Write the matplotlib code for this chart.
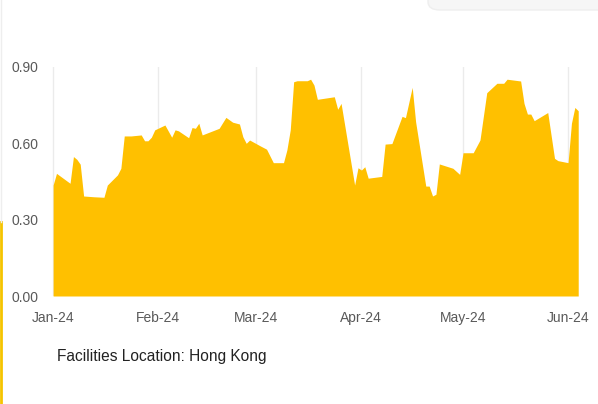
import matplotlib
matplotlib.use("Agg")
import matplotlib.pyplot as plt
import matplotlib.dates as mdates
from matplotlib.patches import FancyBboxPatch
import pandas as pd

# 数据
dates = [
    "2024-01-01", "2024-01-02", "2024-01-06", "2024-01-07", "2024-01-08", "2024-01-09",
    "2024-01-10", "2024-01-13", "2024-01-16", "2024-01-17", "2024-01-20", "2024-01-21",
    "2024-01-22", "2024-01-24", "2024-01-27", "2024-01-28", "2024-01-29", "2024-01-30",
    "2024-01-31", "2024-02-03", "2024-02-05", "2024-02-06", "2024-02-07", "2024-02-10",
    "2024-02-11", "2024-02-12", "2024-02-13", "2024-02-14", "2024-02-19", "2024-02-21",
    "2024-02-23", "2024-02-25", "2024-02-26", "2024-02-27", "2024-02-28", "2024-03-02",
    "2024-03-04", "2024-03-06", "2024-03-09", "2024-03-10", "2024-03-11", "2024-03-12",
    "2024-03-13", "2024-03-16", "2024-03-17", "2024-03-18", "2024-03-19", "2024-03-22",
    "2024-03-24", "2024-03-25", "2024-03-26", "2024-03-30", "2024-03-31", "2024-04-01",
    "2024-04-02", "2024-04-03", "2024-04-07", "2024-04-08", "2024-04-10", "2024-04-13",
    "2024-04-14", "2024-04-16", "2024-04-17", "2024-04-20", "2024-04-21", "2024-04-22",
    "2024-04-23", "2024-04-24", "2024-04-28", "2024-04-30", "2024-05-01", "2024-05-04",
    "2024-05-06", "2024-05-08", "2024-05-11", "2024-05-13", "2024-05-14", "2024-05-18",
    "2024-05-19", "2024-05-20", "2024-05-21", "2024-05-22", "2024-05-26", "2024-05-28",
    "2024-05-29", "2024-06-01", "2024-06-02", "2024-06-03", "2024-06-04",
]
values = [
    0.436, 0.482, 0.443, 0.548, 0.537, 0.518,
    0.393, 0.390, 0.388, 0.436, 0.476, 0.502,
    0.629, 0.629, 0.633, 0.610, 0.610, 0.624,
    0.653, 0.672, 0.624, 0.653, 0.649, 0.622,
    0.662, 0.659, 0.679, 0.633, 0.659, 0.702,
    0.683, 0.676, 0.626, 0.600, 0.613, 0.591,
    0.577, 0.524, 0.524, 0.574, 0.653, 0.842,
    0.846, 0.846, 0.852, 0.829, 0.773, 0.779,
    0.783, 0.734, 0.757, 0.436, 0.504, 0.495,
    0.508, 0.463, 0.470, 0.597, 0.599, 0.706,
    0.701, 0.820, 0.685, 0.432, 0.432, 0.393,
    0.400, 0.519, 0.502, 0.478, 0.563, 0.563,
    0.613, 0.799, 0.836, 0.836, 0.852, 0.845,
    0.757, 0.715, 0.715, 0.689, 0.721, 0.541,
    0.532, 0.524, 0.679, 0.741, 0.728,
]
month_ticks = ["2024-01-01", "2024-02-01", "2024-03-01", "2024-04-01", "2024-05-01", "2024-06-01"]
y_ticks = [0.0, 0.3, 0.6, 0.9]
caption = "Facilities Location: Hong Kong"

x = pd.to_datetime(dates)
mt = pd.to_datetime(month_ticks)

fig = plt.figure(figsize=(5.98, 4.04), dpi=100)
ax = fig.add_axes([51 / 598, 1 - 296 / 404, (585 - 51) / 598, (296 - 67) / 404])

ax.fill_between(x, values, 0, color="#FFC000", linewidth=0)

ax.set_ylim(0, 0.9)
ax.set_xlim(pd.Timestamp("2023-12-31 09:00"), pd.Timestamp("2024-06-06"))
ax.set_yticks(y_ticks)
ax.set_yticklabels([f"{v:.2f}" for v in y_ticks])
ax.set_xticks(mt)
ax.xaxis.set_major_formatter(mdates.DateFormatter("%b-%y"))

for d in mt:
    ax.axvline(d, color="#ebebeb", linewidth=1, zorder=0)

for s in ax.spines.values():
    s.set_visible(False)
ax.tick_params(length=0, labelsize=10, labelcolor="#595959")
ax.tick_params(axis="y", pad=9)
ax.tick_params(axis="x", pad=11)
for lab in ax.get_xticklabels() + ax.get_yticklabels():
    lab.set_family(["Liberation Sans", "DejaVu Sans"])

fig.text(57 / 598, 1 - 357 / 404, caption, fontsize=11.2, color="#222222",
         family=["Liberation Sans", "DejaVu Sans"], va="center", ha="left")

# 卡片边框装饰
fig.add_artist(plt.Line2D([1 / 598, 1 / 598], [0, 1 - 222 / 404], transform=fig.transFigure,
                          color="#F5C400", linewidth=2))
fig.add_artist(plt.Line2D([0.5 / 598, 0.5 / 598], [1 - 222 / 404, 1], transform=fig.transFigure,
                          color="#eeeeee", linewidth=1))
shadow = FancyBboxPatch((428 / 598, 1 - 10 / 404), 200 / 598, 20 / 404,
                        boxstyle="round,pad=0,rounding_size=0.02",
                        transform=fig.transFigure, facecolor="#f6f6f6",
                        edgecolor="#eeeeee", linewidth=1)
fig.patches.append(shadow)

fig.savefig("out.png", dpi=100)
